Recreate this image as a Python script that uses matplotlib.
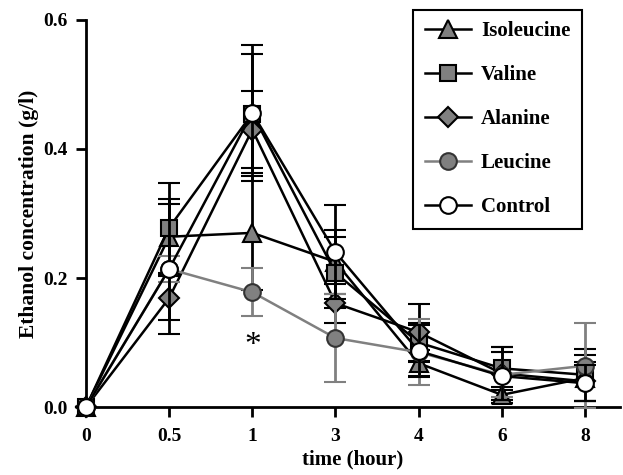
import matplotlib
matplotlib.use('Agg')
import matplotlib.pyplot as plt

plt.rcParams['font.family'] = 'Liberation Serif'
plt.rcParams['font.weight'] = 'bold'

# time points (categorical positions on the x axis)
times = ['0', '0.5', '1', '3', '4', '6', '8']

# mean ethanol concentration (g/l) and error for each group
isoleucine = [0.0, 0.264, 0.270, 0.225, 0.068, 0.019, 0.045]
isoleucine_err = [0.0, 0.058, 0.088, 0.05, 0.02, 0.012, 0.035]
valine = [0.0, 0.278, 0.455, 0.208, 0.100, 0.060, 0.050]
valine_err = [0.0, 0.070, 0.092, 0.055, 0.03, 0.033, 0.04]
alanine = [0.0, 0.169, 0.430, 0.161, 0.116, 0.052, 0.040]
alanine_err = [0.0, 0.034, 0.060, 0.03, 0.044, 0.041, 0.03]
leucine = [0.0, 0.214, 0.178, 0.107, 0.085, 0.050, 0.064]
leucine_err = [0.0, 0.02, 0.037, 0.068, 0.051, 0.035, 0.066]
control = [0.0, 0.214, 0.456, 0.240, 0.087, 0.048, 0.037]
control_err = [0.0, 0.100, 0.105, 0.073, 0.040, 0.037, 0.028]

grey = '#808080'
x = list(range(len(times)))

fig = plt.figure(figsize=(6.23, 4.75), dpi=100)
ax = fig.add_axes([0.138, 0.143, 0.857, 0.815])

series = [
    ('Isoleucine', isoleucine, isoleucine_err, '^', grey, 'black', 'black', 13),
    ('Valine', valine, valine_err, 's', grey, 'black', 'black', 12),
    ('Alanine', alanine, alanine_err, 'D', grey, 'black', 'black', 10),
    ('Leucine', leucine, leucine_err, 'o', grey, '#333333', grey, 12),
    ('Control', control, control_err, 'o', 'white', 'black', 'black', 12),
]
handles = {}
for i, (name, y, err, m, fc, ec, lc, ms) in enumerate(series):
    eb = ax.errorbar(x, y, yerr=err, color=lc, ecolor=lc, elinewidth=2, capsize=8,
                     capthick=2, lw=1.8, marker=m, markersize=ms, markerfacecolor=fc,
                     markeredgecolor=ec, markeredgewidth=1.5, clip_on=False,
                     zorder=3 + i)
    handles[name] = eb[0]

ax.text(2, 0.095, '*', ha='center', va='center', fontsize=24, fontweight='normal')

order = ['Isoleucine', 'Valine', 'Alanine', 'Leucine', 'Control']
leg = ax.legend([handles[n] for n in order], order, loc='upper right',
                bbox_to_anchor=(0.934, 0.979), bbox_transform=fig.transFigure,
                fancybox=False, edgecolor='black', framealpha=1, fontsize=15,
                handlelength=2.2, labelspacing=1.15, borderpad=0.55,
                handletextpad=0.5, borderaxespad=0)
leg.get_frame().set_linewidth(1.5)

ax.set_xlim(0, 6.42)
ax.set_ylim(0, 0.6)
ax.set_xticks(x)
ax.set_xticklabels(times)
ax.set_yticks([0.0, 0.2, 0.4, 0.6])
ax.set_yticklabels(['0.0', '0.2', '0.4', '0.6'])
ax.spines['top'].set_visible(False)
ax.spines['right'].set_visible(False)
ax.spines['left'].set_linewidth(2)
ax.spines['bottom'].set_linewidth(2)
ax.tick_params(width=2, length=7, labelsize=14, pad=6)
ax.tick_params(axis='x', pad=8)
ax.set_xlabel('time (hour)', fontsize=15, fontweight='bold', labelpad=3)
ax.set_ylabel('Ethanol concentration (g/l)', fontsize=15.5, fontweight='bold', labelpad=3)

fig.savefig('out.png', dpi=100)
